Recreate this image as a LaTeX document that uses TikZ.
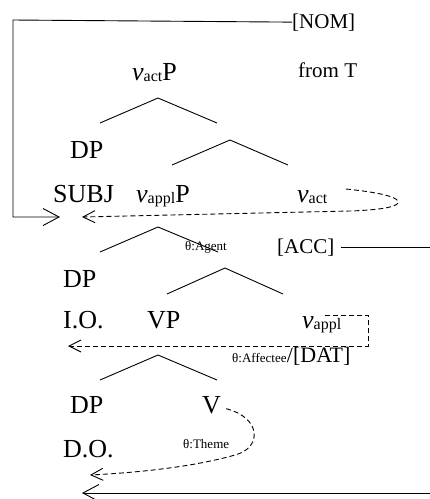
\documentclass[tikz,border=0pt]{standalone}
\usepackage{fontspec}
\setmainfont{Liberation Serif}
\usetikzlibrary{arrows.meta}
% italic v with an upright, lowered subscript
\newcommand\littlev[1]{\textit{v}{\fontsize{16}{16}\selectfont\raisebox{-1.5pt}{#1}}}
\begin{document}
\begin{tikzpicture}[x=1pt,y=-1pt,
  lbl/.style={inner sep=0pt, anchor=base west, font=\fontsize{26}{30}\selectfont},
  case/.style={inner sep=0pt, anchor=base west, font=\fontsize{21}{25}\selectfont},
  theta/.style={inner sep=0pt, anchor=base west, font=\fontsize{13}{15}\selectfont},
  branch/.style={line width=0.9pt},
  link/.style={line width=0.9pt, -{Straight Barb[length=16pt,width=17pt]}},
  feed/.style={line width=0.9pt, dash pattern=on 5pt off 3pt,
               -{Straight Barb[length=12pt,width=12pt]}},
]
\useasboundingbox (0,0) rectangle (430,499);

% labels
\node[case]  (nom)   at (292,28)  {[NOM]};
\node[lbl]   (vactP) at (132,80)  {\littlev{act}P};
\node[case]  (fromT) at (298,77)  {from T};
\node[lbl]   (dp1)   at (70,158)  {DP};
\node[lbl]   (subj)  at (53,202)  {SUBJ};
\node[lbl]   (vapplP) at (136,202) {\littlev{appl}P};
\node[lbl]   (vact)  at (297,202) {\littlev{act}};
\node[theta] (agent) at (185,250) {θ:Agent};
\node[case]  (acc)   at (277,253) {[ACC]};
\node[lbl]   (dp2)   at (63,287)  {DP};
\node[lbl]   (io)    at (63,328)  {I.O.};
\node[lbl]   (vp)    at (147,328) {VP};
\node[lbl]   (vappl) at (302,328) {\littlev{appl}};
\node[theta] (affectee) at (232,362) {θ:Affectee};
\node[case, font=\fontsize{22}{26}\selectfont] (dat) at (affectee.base east)
  [anchor=base west] {/[DAT]};
\node[lbl]   (dp3)   at (70,413)  {DP};
\node[lbl]   (verb)  at (202,413) {V};
\node[lbl]   (do)    at (63,457)  {D.O.};
\node[theta] (theme) at (183,448) {θ:Theme};

% tree branches
\draw[branch] (100,123) -- (158,98) -- (217,123);
\draw[branch] (172,165) -- (230,140) -- (288,165);
\draw[branch] (100,252) -- (158,227) -- (218,252);
\draw[branch] (167,294) -- (225,268) -- (283,294);
\draw[branch] (100,380) -- (158,355) -- (217,380);

% end points of the connectors
\coordinate (subjin)  at (60,217);
\coordinate (agentin) at (82,217);
\coordinate (ioin)    at (68,346);
\coordinate (doin)    at (90,475);
\coordinate (objin)   at (82,493);
\coordinate (accout)  at (430,247);
\coordinate (objout)  at (430,493);
\coordinate (applout) at (325,315);
\coordinate (actout)  at (346,189);

% case assignment
\draw[link] (nom.west) -- (13,20) -- (13,217) -- (subjin);
\draw[branch] ([xshift=6pt]acc.east |- accout) -- (accout);
\draw[link] (objout) -- (objin);

% theta roles
\draw[feed] (actout) .. controls (385,193) and (400,198) .. (398,203)
  .. controls (396,207) and (380,210) .. (350,211) -- (agentin);
\draw[feed] (applout) -- (368,315) -- (368,346) -- (ioin);
\draw[feed] ([shift={(5,4)}]verb.east) .. controls (262,418) and (262,448) .. (235,455)
  .. controls (200,465) and (150,472) .. (doin);
\end{tikzpicture}
\end{document}
